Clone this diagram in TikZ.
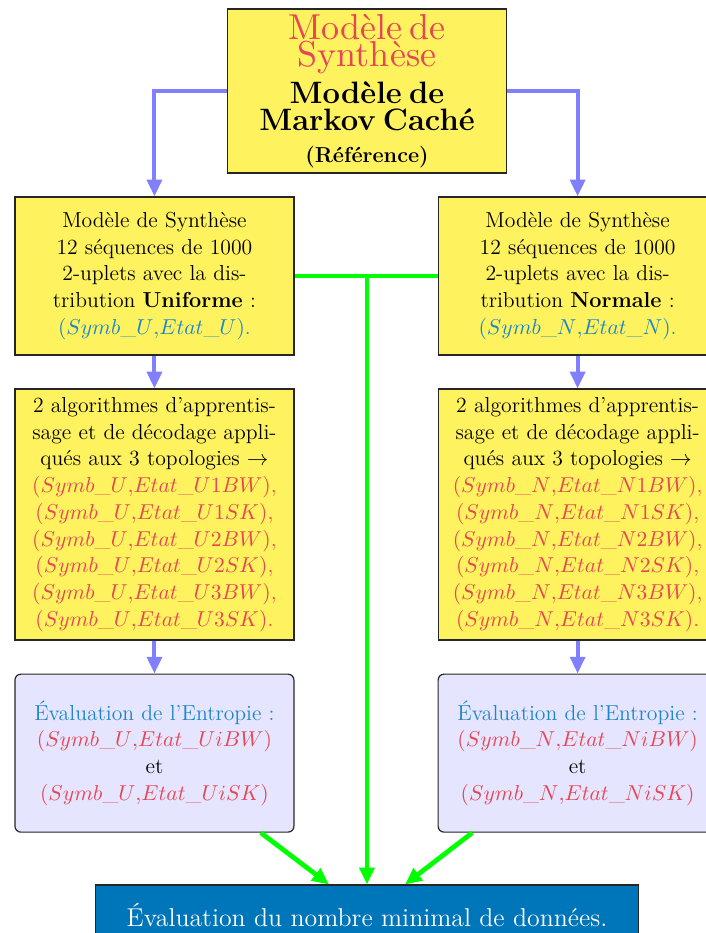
\documentclass[tikz,border=0pt]{standalone}
\usepackage{fontspec}
\usetikzlibrary{arrows.meta,positioning}

\newfontfamily\titlefont{lmroman10-regular.otf}
\definecolor{boxyellow}{RGB}{255,242,95}
\definecolor{titlered}{RGB}{230,70,85}
\definecolor{textblue}{RGB}{28,134,200}
\definecolor{evalblue}{RGB}{0,118,186}

\begin{document}
\begin{tikzpicture}[%
	on grid,>={Triangle[length=8.5pt,width=7.5pt]},
	box/.style={draw=black!85,line width=0.6pt,fill=boxyellow,text width=130pt,
		inner xsep=5.8pt,align=center,font={\fontsize{11}{13.6}\selectfont}},
	entropy/.style={box,fill=blue!10,rounded corners=3pt,minimum height=80.2pt},
	link/.style={->,draw=blue!50,line width=2pt},
	merge/.style={draw=green,line width=2.4pt}]

	\useasboundingbox (0,0) rectangle (357.9pt,-473.6pt);

	\node[box,minimum height=83.2pt,inner ysep=2.5pt]	(MS)	at (186.3pt,-46.2pt)	{%
		{\color{titlered}\titlefont\fontsize{18.3}{13.6}\selectfont Modèle de Synthèse}\\[2.9pt]
		{\fontsize{15.7}{13.6}\selectfont\bfseries Modèle de Markov Caché}\\[2.6pt]
		\textbf{(Référence)}};

	\node[box,minimum height=80.2pt]	(SU)	[below left=93.9pt and 107.9pt of MS]	{%
		Modèle de Synthèse\\12 séquences de 1000\\2-uplets avec la dis-\\
		tribution \textbf{Uniforme} :\\{\color{textblue}$(Symb\_U{,}Etat\_U)$.}};
	\node[box,minimum height=80.2pt]	(SN)	[below right=93.9pt and 106.9pt of MS]	{%
		Modèle de Synthèse\\12 séquences de 1000\\2-uplets avec la dis-\\
		tribution \textbf{Normale} :\\{\color{textblue}$(Symb\_N{,}Etat\_N)$.}};

	\node[box,minimum height=127.4pt]	(AU)	[below=121.1pt of SU]	{%
		2 algorithmes d'apprentis-\\sage et de décodage appli-\\qués aux 3 topologies $\rightarrow$\\
		\color{titlered}$(Symb\_U{,}Etat\_U1BW)$,\\$(Symb\_U{,}Etat\_U1SK)$,\\
		$(Symb\_U{,}Etat\_U2BW)$,\\$(Symb\_U{,}Etat\_U2SK)$,\\
		$(Symb\_U{,}Etat\_U3BW)$,\\$(Symb\_U{,}Etat\_U3SK)$.};
	\node[box,minimum height=127.4pt]	(AN)	[below=121.1pt of SN]	{%
		2 algorithmes d'apprentis-\\sage et de décodage appli-\\qués aux 3 topologies $\rightarrow$\\
		\color{titlered}$(Symb\_N{,}Etat\_N1BW)$,\\$(Symb\_N{,}Etat\_N1SK)$,\\
		$(Symb\_N{,}Etat\_N2BW)$,\\$(Symb\_N{,}Etat\_N2SK)$,\\
		$(Symb\_N{,}Etat\_N3BW)$,\\$(Symb\_N{,}Etat\_N3SK)$.};

	\node[entropy]	(EU)	[below=121.1pt of AU]	{%
		{\color{textblue}Évaluation de l'Entropie :}\\
		{\color{titlered}$(Symb\_U{,}Etat\_UiBW)$}\\et\\
		{\color{titlered}$(Symb\_U{,}Etat\_UiSK)$}};
	\node[entropy]	(EN)	[below=121.1pt of AN]	{%
		{\color{textblue}Évaluation de l'Entropie :}\\
		{\color{titlered}$(Symb\_N{,}Etat\_NiBW)$}\\et\\
		{\color{titlered}$(Symb\_N{,}Etat\_NiSK)$}};

	\node[draw=black!85,line width=0.6pt,fill=evalblue,text=white,minimum width=276pt,
		minimum height=30.5pt,font={\fontsize{13.1}{15}\selectfont}]
		(EV)	[below=418.3pt of MS]	{Évaluation du nombre minimal de données.};

	\draw[link] (MS.west) -| (SU.north);
	\draw[link] (MS.east) -| (SN.north);
	\draw[link] (SU) -- (AU);
	\draw[link] (AU) -- (EU);
	\draw[link] (SN) -- (AN);
	\draw[link] (AN) -- (EN);

	\draw[merge] (SU.east) -- (SN.west);
	\coordinate (J) at (SU.east -| EV.north);
	\draw[merge,->] (J) -- (EV.north);
	\draw[merge,->] ([xshift=54pt]EU.south) -- ([xshift=-19.3pt]EV.north);
	\draw[merge,->] ([xshift=-53.5pt]EN.south) -- ([xshift=19.3pt]EV.north);

\end{tikzpicture}
\end{document}
